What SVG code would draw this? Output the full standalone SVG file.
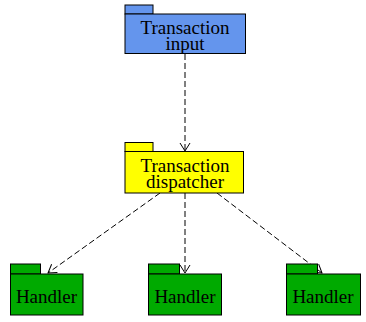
<svg xmlns="http://www.w3.org/2000/svg" width="366" height="322" viewBox="0 0 366 322">
  <defs>
    <marker id="open" markerWidth="12" markerHeight="12" refX="9" refY="6" orient="auto" markerUnits="userSpaceOnUse">
      <path d="M1,1 L9,6 L1,11" fill="none" stroke="#000" stroke-width="1"/>
    </marker>
  </defs>
  <style>
    .box { stroke: #000; stroke-width: 1; }
    .blue { fill: #6495ED; }
    .yellow { fill: #FFFF00; }
    .green { fill: #00AA00; }
    .label { fill: #000; text-anchor: middle; }
    .edge { fill: none; stroke: #000; stroke-width: 1; stroke-dasharray: 6 3; marker-end: url(#open); }
  </style>
  <rect width="366" height="322" fill="#fff"/>

  <g id="edges">
    <path class="edge" d="M185,54 L185,151"/>
    <path class="edge" d="M160,193 L48,273"/>
    <path class="edge" d="M185,193 L185,273"/>
    <path class="edge" d="M217,193 L322,273"/>
  </g>

  <g id="transaction-input">
    <rect class="box blue" x="125" y="5" width="28" height="9"/>
    <rect class="box blue" x="125" y="14" width="120.5" height="39.5"/>
    <text class="label" font-family="Liberation Serif" font-size="19" x="185" y="33.5">Transaction</text>
    <text class="label" font-family="Liberation Serif" font-size="19" x="185" y="50">input</text>
  </g>

  <g id="transaction-dispatcher">
    <rect class="box yellow" x="125" y="142.5" width="28" height="9"/>
    <rect class="box yellow" x="125" y="151.5" width="118.5" height="41.5"/>
    <text class="label" font-family="Liberation Serif" font-size="19" x="185" y="171.5">Transaction</text>
    <text class="label" font-family="Liberation Serif" font-size="19" x="185" y="188">dispatcher</text>
  </g>

  <g id="handler-1">
    <rect class="box green" x="10.5" y="264" width="30" height="10"/>
    <rect class="box green" x="10.5" y="274" width="72.5" height="41"/>
    <text class="label" font-family="Liberation Serif" font-size="19" x="46.5" y="303">Handler</text>
  </g>

  <g id="handler-2">
    <rect class="box green" x="148.5" y="264" width="31" height="10"/>
    <rect class="box green" x="148.5" y="274" width="73" height="41"/>
    <text class="label" font-family="Liberation Serif" font-size="19" x="185" y="303">Handler</text>
  </g>

  <g id="handler-3">
    <rect class="box green" x="286.5" y="264" width="31" height="10"/>
    <rect class="box green" x="286.5" y="274" width="74" height="41"/>
    <text class="label" font-family="Liberation Serif" font-size="19" x="323" y="303">Handler</text>
  </g>
</svg>
